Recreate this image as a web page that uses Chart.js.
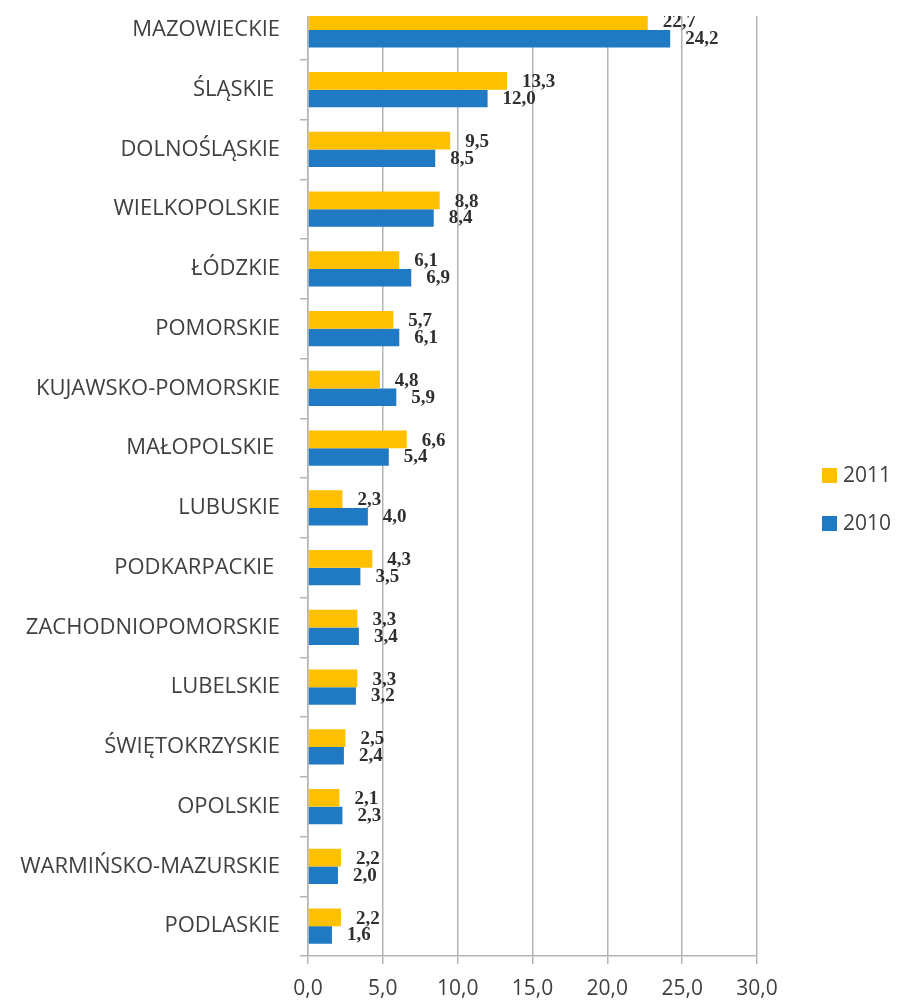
<!DOCTYPE html>
<html>
<head>
<meta charset="utf-8">
<script src="https://cdn.jsdelivr.net/npm/chart.js@4.4.0/dist/chart.umd.min.js"></script>
<style>
  html, body { margin: 0; padding: 0; background: #ffffff; }
  #wrap { position: relative; width: 902px; height: 1000px; overflow: hidden; }
  #topcrop { position: absolute; left: 0; top: 0; width: 902px; height: 16px; background: #ffffff; }
</style>
</head>
<body>
<div id="wrap">
  <canvas id="c" width="902" height="1000"></canvas>
  <div id="topcrop"></div>
</div>
<script>
const categories = [
  "MAZOWIECKIE", "ŚLĄSKIE ", "DOLNOŚLĄSKIE", "WIELKOPOLSKIE", "ŁÓDZKIE",
  "POMORSKIE", "KUJAWSKO-POMORSKIE", "MAŁOPOLSKIE ", "LUBUSKIE", "PODKARPACKIE ",
  "ZACHODNIOPOMORSKIE", "LUBELSKIE", "ŚWIĘTOKRZYSKIE", "OPOLSKIE",
  "WARMIŃSKO-MAZURSKIE", "PODLASKIE"
];
const values2011 = [22.7, 13.3, 9.5, 8.8, 6.1, 5.7, 4.8, 6.6, 2.3, 4.3, 3.3, 3.3, 2.5, 2.1, 2.2, 2.2];
const values2010 = [24.2, 12.0, 8.5, 8.4, 6.9, 6.1, 5.9, 5.4, 4.0, 3.5, 3.4, 3.2, 2.4, 2.3, 2.0, 1.6];
const seriesNames = ["2011", "2010"];
const xTicks = [0, 5, 10, 15, 20, 25, 30];

const YELLOW = "#FFC000";
const BLUE = "#2079C3";
const GRID = "#b4b4b4";
const TEXT = "#404040";

function fmt(v) { return v.toFixed(1).replace(".", ","); }

const valueLabels = {
  id: "valueLabels",
  afterDatasetsDraw(chart) {
    const ctx = chart.ctx;
    ctx.save();
    ctx.font = "bold 19px 'Liberation Serif'";
    ctx.fillStyle = "#2f2f2f";
    ctx.textAlign = "left";
    ctx.textBaseline = "middle";
    chart.data.datasets.forEach((ds, di) => {
      const meta = chart.getDatasetMeta(di);
      meta.data.forEach((el, i) => {
        ctx.fillText(fmt(ds.data[i]), el.x + 15, el.y + (di === 0 ? 1.5 : 0.5));
      });
    });
    ctx.restore();
  }
};

const sideLegend = {
  id: "sideLegend",
  afterDraw(chart) {
    const ctx = chart.ctx;
    ctx.save();
    ctx.font = "21px 'Open Sans'";
    ctx.textAlign = "left";
    ctx.textBaseline = "middle";
    chart.data.datasets.forEach((ds, i) => {
      const y = 476 + i * 48;
      ctx.fillStyle = ds.backgroundColor;
      ctx.fillRect(822, y - 8, 15, 15);
      ctx.fillStyle = TEXT;
      ctx.fillText(ds.label, 843, y);
    });
    ctx.restore();
  }
};

new Chart(document.getElementById("c"), {
  type: "bar",
  data: {
    labels: categories,
    datasets: [
      { label: seriesNames[0], data: values2011, backgroundColor: YELLOW, borderWidth: 0 },
      { label: seriesNames[1], data: values2010, backgroundColor: BLUE, borderWidth: 0 }
    ]
  },
  options: {
    indexAxis: "y",
    responsive: false,
    animation: false,
    devicePixelRatio: 1,
    categoryPercentage: 0.59,
    barPercentage: 1.0,
    layout: { padding: { left: 0, right: 145, top: 0, bottom: 0 } },
    plugins: {
      legend: { display: false },
      tooltip: { enabled: false }
    },
    scales: {
      x: {
        min: 0,
        max: 30,
        afterBuildTicks(scale) { scale.ticks = xTicks.map(v => ({ value: v })); },
        afterFit(scale) { scale.height = 44; },
        ticks: {
          callback: (v) => fmt(v),
          font: { family: "'Open Sans'", size: 21 },
          color: TEXT,
          padding: 12,
          maxRotation: 0
        },
        grid: { color: GRID, lineWidth: 1.5, tickLength: 8, drawOnChartArea: true },
        border: { display: true, color: GRID, width: 1.5 }
      },
      y: {
        afterFit(scale) { scale.width = 308; scale.paddingTop = 0; scale.paddingBottom = 0; },
        ticks: {
          font: { family: "'Open Sans'", size: 22 },
          color: TEXT,
          padding: 20,
          autoSkip: false
        },
        grid: { display: true, drawOnChartArea: false, color: GRID, lineWidth: 1.5, tickLength: 8, offset: true },
        border: { display: true, color: GRID, width: 1.5 }
      }
    }
  },
  plugins: [valueLabels, sideLegend]
});
</script>
</body>
</html>
